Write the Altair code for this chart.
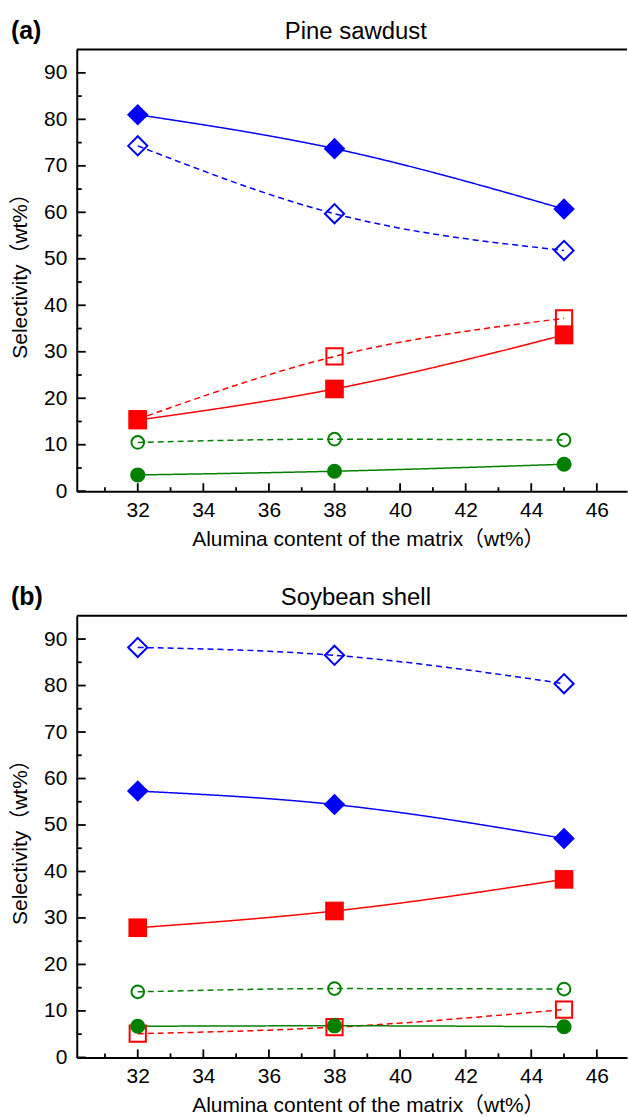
import altair as alt
import pandas as pd

# ---------------- data ----------------
x_vals = [32, 38, 45]

# Panel (a) Pine sawdust
a_diamond_filled = [81.0, 73.7, 60.7]
a_diamond_open = [74.3, 59.7, 51.8]
a_square_open = [15.5, 29.0, 37.2]
a_square_filled = [15.3, 22.0, 33.6]
a_circle_open = [10.5, 11.2, 11.0]
a_circle_filled = [3.5, 4.3, 5.8]

# Panel (b) Soybean shell
b_diamond_open = [88.2, 86.5, 80.4]
b_diamond_filled = [57.3, 54.4, 47.1]
b_square_filled = [27.9, 31.5, 38.3]
b_circle_open = [14.1, 14.8, 14.7]
b_square_open = [5.1, 6.5, 10.3]
b_circle_filled = [6.7, 6.8, 6.6]

y_major = [0, 10, 20, 30, 40, 50, 60, 70, 80, 90]
y_minor = [5, 15, 25, 35, 45, 55, 65, 75, 85]
x_major = [32, 34, 36, 38, 40, 42, 44, 46]
x_minor = [31, 33, 35, 37, 39, 41, 43, 45]

x_domain = [30.14, 46.92]
y_domain = [0, 95]

panel_titles = ["Pine sawdust", "Soybean shell"]
panel_tags = ["(a)", "(b)"]
x_title = "Alumina content of the matrix\uff08wt%\uff09"
y_title = "Selectivity\uff08wt%\uff09"

shape_names = ["diamond", "square", "circle"]
shape_colors = ["#0000ff", "#ff0000", "#008000"]
filled_sizes = [470, 230, 320]
open_sizes = [370, 160, 225]

W, H = 552, 443
FONT = "Liberation Sans, Noto Sans CJK SC, sans-serif"


def make_df(series):
    rows = []
    for (shape, fill), vals in series.items():
        for xv, yv in zip(x_vals, vals):
            rows.append({"series": f"{shape}_{fill}", "shape": shape,
                         "fill": fill, "x": xv, "y": yv})
    return pd.DataFrame(rows)


df_a = make_df({
    ("diamond", "filled"): a_diamond_filled,
    ("diamond", "open"): a_diamond_open,
    ("square", "open"): a_square_open,
    ("square", "filled"): a_square_filled,
    ("circle", "open"): a_circle_open,
    ("circle", "filled"): a_circle_filled,
})
df_b = make_df({
    ("diamond", "open"): b_diamond_open,
    ("diamond", "filled"): b_diamond_filled,
    ("square", "filled"): b_square_filled,
    ("circle", "open"): b_circle_open,
    ("square", "open"): b_square_open,
    ("circle", "filled"): b_circle_filled,
})

xs = alt.Scale(domain=x_domain, nice=False, zero=False)
ys = alt.Scale(domain=y_domain, nice=False, zero=False)
color_scale = alt.Scale(domain=shape_names, range=shape_colors)
shape_scale = alt.Scale(domain=shape_names, range=shape_names)

x_axis = alt.Axis(values=x_major, format="d", labelPadding=8, ticks=False,
                  tickSize=0, grid=False, title=x_title, titleX=292,
                  titleY=54, titleBaseline="alphabetic", titleAlign="center")
y_axis = alt.Axis(values=y_major, format="d", labelPadding=10, ticks=False,
                  tickSize=0, grid=False, title=y_title, titleX=-50,
                  titleBaseline="alphabetic", titleAlign="center")


def X(field):
    return alt.X(field, scale=xs, axis=x_axis)


def Y(field):
    return alt.Y(field, scale=ys, axis=y_axis)


def panel(df, title, tag):
    base = alt.Chart(df)
    lines = base.mark_line(strokeWidth=1.5, interpolate="monotone").encode(
        x=X("x:Q"), y=Y("y:Q"),
        color=alt.Color("shape:N", scale=color_scale, legend=None),
        strokeDash=alt.StrokeDash("fill:N", scale=alt.Scale(
            domain=["filled", "open"], range=[[1, 0], [6, 4]]), legend=None),
        detail="series:N",
    )
    open_pts = base.transform_filter(alt.datum.fill == "open").mark_point(
        filled=False, strokeWidth=2, opacity=1).encode(
        x=X("x:Q"), y=Y("y:Q"),
        shape=alt.Shape("shape:N", scale=shape_scale, legend=None),
        size=alt.Size("shape:N", scale=alt.Scale(domain=shape_names, range=open_sizes), legend=None),
        color=alt.Color("shape:N", scale=color_scale, legend=None),
    )
    filled_pts = base.transform_filter(alt.datum.fill == "filled").mark_point(
        filled=True, opacity=1, strokeWidth=0).encode(
        x=X("x:Q"), y=Y("y:Q"),
        shape=alt.Shape("shape:N", scale=shape_scale, legend=None),
        size=alt.Size("shape:N", scale=alt.Scale(domain=shape_names, range=filled_sizes), legend=None),
        color=alt.Color("shape:N", scale=color_scale, legend=None),
    )
    ymaj = alt.Chart(pd.DataFrame({"v": y_major})).mark_rule(color="black", strokeWidth=1.8).encode(
        y=Y("v:Q"), x=alt.value(0), x2=alt.value(9))
    ymin = alt.Chart(pd.DataFrame({"v": y_minor})).mark_rule(color="black", strokeWidth=1.8).encode(
        y=Y("v:Q"), x=alt.value(0), x2=alt.value(5))
    xmaj = alt.Chart(pd.DataFrame({"v": x_major})).mark_rule(color="black", strokeWidth=1.8).encode(
        x=X("v:Q"), y=alt.value(H), y2=alt.value(H - 8))
    xmin = alt.Chart(pd.DataFrame({"v": x_minor})).mark_rule(color="black", strokeWidth=1.8).encode(
        x=X("v:Q"), y=alt.value(H), y2=alt.value(H - 4))
    top = alt.Chart(pd.DataFrame({"x0": [x_domain[0]], "x1": [x_domain[1]], "yt": [y_domain[1]]})).mark_rule(
        color="black", strokeWidth=2).encode(
        x=X("x0:Q"), x2="x1:Q", y=Y("yt:Q"))
    tag_txt = alt.Chart(alt.Data(values=[{}])).mark_text(
        text=tag, font=FONT, fontSize=25, fontWeight="bold", align="left",
        baseline="alphabetic", color="black").encode(
        x=alt.value(-66), y=alt.value(-11))
    title_txt = alt.Chart(alt.Data(values=[{}])).mark_text(
        text=title, font=FONT, fontSize=24, align="center",
        baseline="alphabetic", color="black").encode(
        x=alt.value(W / 2 + 4), y=alt.value(-11))
    return alt.layer(lines, open_pts, filled_pts, ymaj, ymin, xmaj, xmin, top,
                     tag_txt, title_txt).resolve_scale(size="independent").properties(
        width=W, height=H)


chart = alt.vconcat(
    panel(df_a, panel_titles[0], panel_tags[0]),
    panel(df_b, panel_titles[1], panel_tags[1]),
    spacing=125, bounds="flush",
).properties(
    padding={"left": 10, "top": 17, "right": 0, "bottom": 0}
).configure_view(stroke=None).configure_axis(
    domainColor="black", domainWidth=2, labelColor="black", labelFont=FONT,
    labelFontSize=21, titleFont=FONT, titleFontSize=21, titleFontWeight="normal",
    titleColor="black",
)

chart.save("out.html", embed_options={"renderer": "svg", "actions": False})
